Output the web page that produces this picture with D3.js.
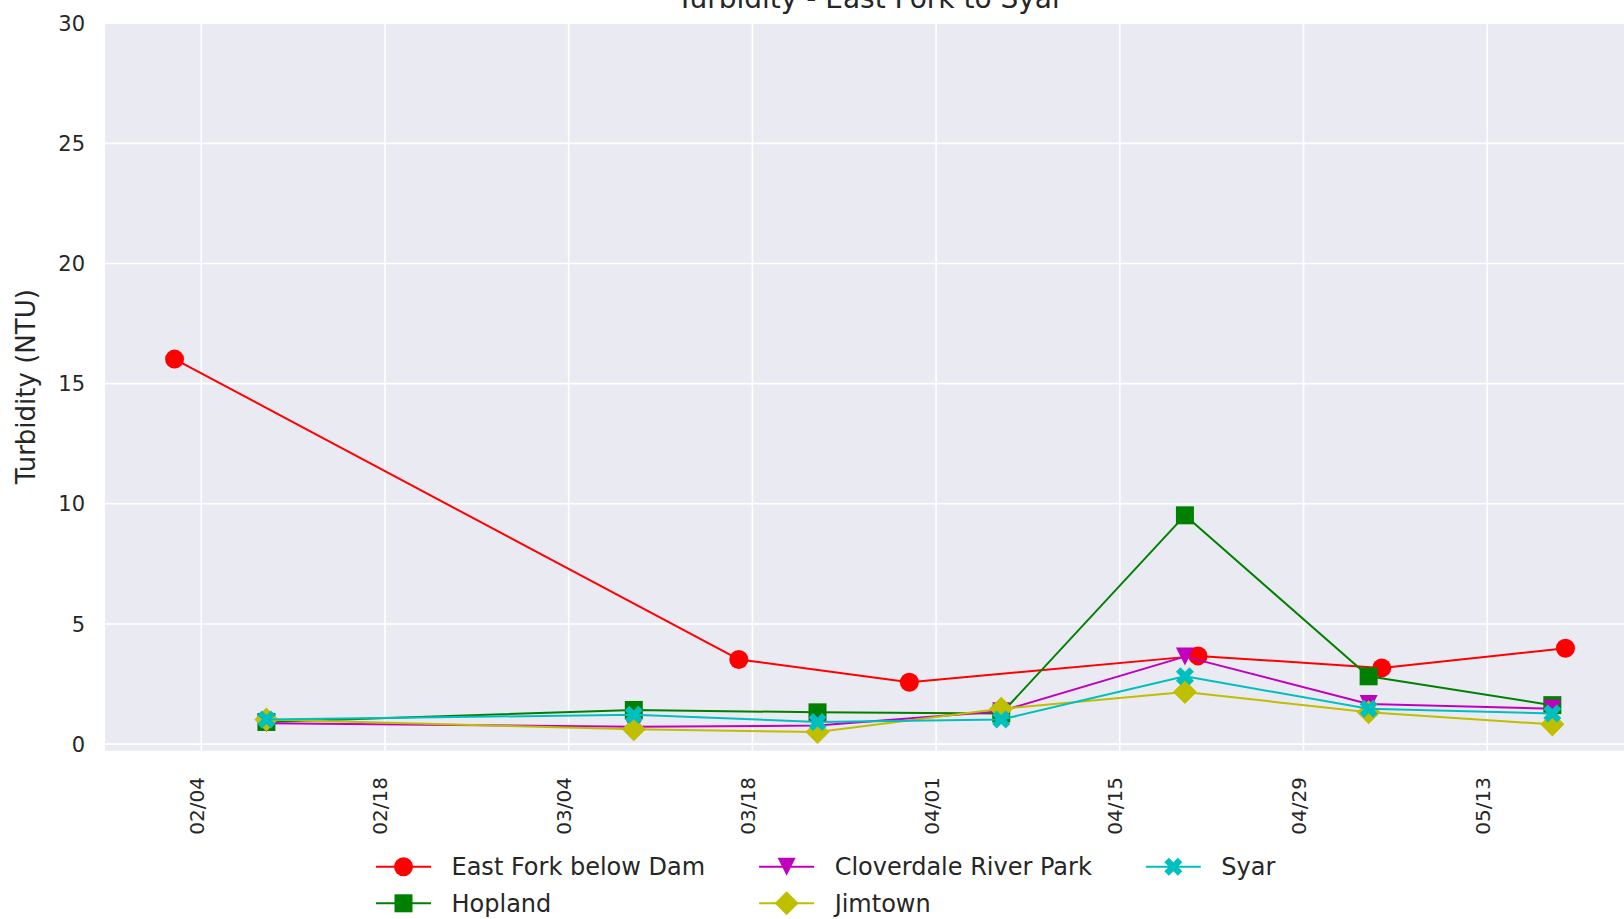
<!DOCTYPE html>
<html><head><meta charset="utf-8">
<script src="https://cdn.jsdelivr.net/npm/d3@7"></script>
<style>
body{margin:0;background:#fff;}
svg{display:block;}
text{font-family:"DejaVu Sans",sans-serif;fill:#262626;}
</style>
</head><body><svg id="chart" width="1624" height="919"></svg>
<script>
// ---------- data ----------
const chartTitle = "Turbidity - East Fork to Syar";
const yLabel = "Turbidity (NTU)";
const seriesNames = ["East Fork below Dam", "Hopland", "Cloverdale River Park", "Jimtown", "Syar"];
const eastForkDates = ["2019-02-02", "2019-03-17", "2019-03-30", "2019-04-21", "2019-05-05", "2019-05-19"];
const eastForkValues = [16.0, 3.5, 2.55, 3.65, 3.15, 3.97];
const siteDates = ["2019-02-09", "2019-03-09", "2019-03-23", "2019-04-06", "2019-04-20", "2019-05-04", "2019-05-18"];
const hoplandValues = [0.9, 1.4, 1.3, 1.25, 9.5, 2.8, 1.6];
const cloverdaleValues = [0.85, 0.7, 0.75, 1.35, 3.62, 1.65, 1.45];
const jimtownValues = [1.0, 0.6, 0.48, 1.45, 2.15, 1.3, 0.8];
const syarValues = [1.0, 1.2, 0.9, 1.0, 2.8, 1.45, 1.25];
const yTicks = [0, 5, 10, 15, 20, 25, 30];
const yTop = 30;
const xTickDates = ["2019-02-04", "2019-02-18", "2019-03-04", "2019-03-18", "2019-04-01", "2019-04-15", "2019-04-29", "2019-05-13"];
const xTickLabels = ["02/04", "02/18", "03/04", "03/18", "04/01", "04/15", "04/29", "05/13"];

// ---------- styles ----------
const colors = ["#ff0000", "#008000", "#bf00bf", "#bfbf00", "#00bfbf"];
const markerKinds = ["circle", "square", "triangleDown", "diamond", "xFilled"];
const markerSizes = [19, 18, 18, 17, 18];

const parse = d3.timeParse("%Y-%m-%d");
const seriesDates = [eastForkDates, siteDates, siteDates, siteDates, siteDates];
const seriesValues = [eastForkValues, hoplandValues, cloverdaleValues, jimtownValues, syarValues];
const series = seriesNames.map((name, i) => ({
  name, color: colors[i], kind: markerKinds[i], ms: markerSizes[i],
  points: seriesDates[i].map((d, j) => ({date: parse(d), value: seriesValues[i][j]}))
}));

// ---------- layout ----------
const plot = {left: 105, right: 1635, top: 22.7, bottom: 750.7};
const svg = d3.select("#chart");

const allPts = series.flatMap(s => s.points);
const dMin = d3.min(allPts, p => p.date), dMax = d3.max(allPts, p => p.date);
const span = dMax - dMin;
const x = d3.scaleTime()
  .domain([new Date(+dMin - 0.05 * span), new Date(+dMax + 0.05 * span)])
  .range([plot.left, plot.right]);
const vMin = d3.min(allPts, p => p.value), vMax = d3.max(allPts, p => p.value);
const y = d3.scaleLinear()
  .domain([vMin - 0.05 * (vMax - vMin), yTop])
  .range([plot.bottom, plot.top]);

// background
svg.append("rect").attr("x", plot.left).attr("y", plot.top)
  .attr("width", plot.right - plot.left).attr("height", plot.bottom - plot.top)
  .attr("fill", "#eaeaf2");

// grid via axes
const xTickVals = xTickDates.map(parse);
const xAxis = d3.axisBottom(x).tickValues(xTickVals)
  .tickSize(-(plot.bottom - plot.top)).tickFormat((d, i) => xTickLabels[i]);
const gx = svg.append("g").attr("transform", `translate(0,${plot.bottom})`).call(xAxis);
gx.select(".domain").remove();
gx.selectAll(".tick line").attr("stroke", "#ffffff").attr("stroke-width", 1.6);
gx.selectAll(".tick text")
  .attr("font-size", 20).attr("fill", "#262626")
  .attr("text-anchor", "end")
  .attr("x", 0).attr("y", 0).attr("dy", "0.12em")
  .attr("transform", "translate(0,26.3) rotate(-90)");

const yAxis = d3.axisLeft(y).tickValues(yTicks)
  .tickSize(-(plot.right - plot.left)).tickFormat(d3.format("d"));
const gy = svg.append("g").attr("transform", `translate(${plot.left},0)`).call(yAxis);
gy.select(".domain").remove();
gy.selectAll(".tick line").attr("stroke", "#ffffff").attr("stroke-width", 1.6);
gy.selectAll(".tick text")
  .attr("font-size", 21).attr("fill", "#262626")
  .attr("text-anchor", "end").attr("x", -20).attr("dy", "0.36em");

// ---------- markers ----------
function markerPath(kind, ms) {
  const h = ms / 2;
  switch (kind) {
    case "circle": {
      const p = d3.path(); p.arc(0, 0, h, 0, 2 * Math.PI); p.closePath(); return p.toString();
    }
    case "square":
      return `M${-h},${-h}L${h},${-h}L${h},${h}L${-h},${h}Z`;
    case "triangleDown":
      return `M0,${h}L${-h},${-h}L${h},${-h}Z`;
    case "diamond": {
      const r = h * Math.SQRT2;
      return `M0,${-r}L${r},0L0,${r}L${-r},0Z`;
    }
    case "xFilled": {
      const s = ms / 4;
      const v = [[-1,-2],[0,-1],[1,-2],[2,-1],[1,0],[2,1],[1,2],[0,1],[-1,2],[-2,1],[-1,0],[-2,-1]];
      return "M" + v.map(q => `${q[0]*s},${q[1]*s}`).join("L") + "Z";
    }
  }
}

const line = d3.line().x(p => x(p.date)).y(p => y(p.value));
const plotG = svg.append("g");
series.forEach(s => {
  plotG.append("path").datum(s.points).attr("d", line)
    .attr("fill", "none").attr("stroke", s.color).attr("stroke-width", 2)
    .attr("stroke-linejoin", "round");
  plotG.selectAll(null).data(s.points).enter().append("path")
    .attr("d", markerPath(s.kind, s.ms))
    .attr("transform", p => `translate(${x(p.date)},${y(p.value)})`)
    .attr("fill", s.color);
});

// ---------- title & label ----------
svg.append("text").attr("x", (plot.left + plot.right) / 2).attr("y", 7.5)
  .attr("text-anchor", "middle").attr("font-size", 28).text(chartTitle);
svg.append("text")
  .attr("transform", `translate(34.5,${(plot.top + plot.bottom) / 2}) rotate(-90)`)
  .attr("text-anchor", "middle").attr("font-size", 26).text(yLabel);

// ---------- legend ----------
const legend = {x0: 376, rows: [866.7, 903.3], handle: 55, gap: 20.5, colSpacing: 54, fontSize: 24};
const nrows = legend.rows.length;
const legG = svg.append("g");
const cols = [];
series.forEach((s, i) => {
  const c = Math.floor(i / nrows), r = i % nrows;
  (cols[c] = cols[c] || []).push({s, r});
});
let cx = legend.x0;
cols.forEach(col => {
  let maxW = 0;
  col.forEach(({s, r}) => {
    const yy = legend.rows[r];
    legG.append("line").attr("x1", cx).attr("x2", cx + legend.handle)
      .attr("y1", yy).attr("y2", yy).attr("stroke", s.color).attr("stroke-width", 2);
    legG.append("path").attr("d", markerPath(s.kind, s.ms))
      .attr("transform", `translate(${cx + legend.handle / 2},${yy})`).attr("fill", s.color);
    const t = legG.append("text").attr("x", cx + legend.handle + legend.gap).attr("y", yy)
      .attr("dy", "0.36em").attr("font-size", legend.fontSize).text(s.name);
    maxW = Math.max(maxW, t.node().getComputedTextLength());
  });
  cx += legend.handle + legend.gap + maxW + legend.colSpacing;
});
</script>
</body></html>
